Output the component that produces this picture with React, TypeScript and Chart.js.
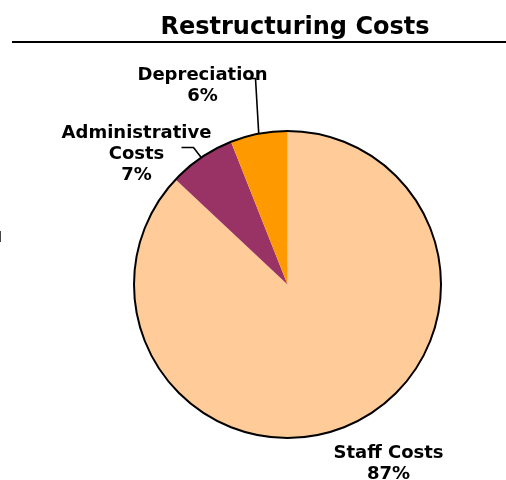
import React, { useEffect, useRef } from "react";
import { Chart, registerables } from "chart.js";

Chart.register(...registerables);

const categories = ["Staff Costs", "Administrative Costs", "Depreciation"];
const values = [87, 7, 6];
const percentLabels = ["87%", "7%", "6%"];
const colors = ["#FFCC99", "#993366", "#FF9900"];
const titleText = "Restructuring Costs";

const FONT = "'DejaVu Sans', sans-serif";

const annotatePlugin = {
  id: "annotate",
  afterDatasetsDraw(chart: any) {
    const ctx = chart.ctx;
    const meta = chart.getDatasetMeta(0);
    const arcs = meta.data;
    if (!arcs.length) return;
    const cx = arcs[0].x;
    const cy = arcs[0].y;
    const r = arcs[0].outerRadius;

    ctx.save();
    // outer border
    ctx.beginPath();
    ctx.arc(cx, cy, r, 0, Math.PI * 2);
    ctx.lineWidth = 2;
    ctx.strokeStyle = "#000";
    ctx.stroke();

    // title
    ctx.fillStyle = "#000";
    ctx.font = `bold 24px ${FONT}`;
    ctx.textAlign = "center";
    ctx.textBaseline = "alphabetic";
    ctx.fillText(titleText, 295, 34);
    ctx.fillRect(12, 41, 494, 2);
    // small clipped mark at left edge
    ctx.fillStyle = "#444";
    ctx.fillRect(0, 231, 1, 11);

    const mid = (i: number) => {
      const a = arcs[i];
      const m = (a.startAngle + a.endAngle) / 2;
      return { x: cx + Math.cos(m) * r, y: cy + Math.sin(m) * r };
    };

    ctx.fillStyle = "#000";
    ctx.font = `bold 18px ${FONT}`;
    ctx.textAlign = "center";
    const lh = 21;
    const drawLines = (lines: string[], x: number, y: number) => {
      lines.forEach((t, k) => ctx.fillText(t, x, y + k * lh));
    };

    // Staff Costs
    drawLines([categories[0], percentLabels[0]], cx + 101, cy + 173);
    // Administrative Costs
    drawLines(["Administrative", "Costs", percentLabels[1]], cx - 151, cy - 147);
    // Depreciation
    drawLines([categories[2], percentLabels[2]], cx - 85, cy - 205);

    // leader lines
    ctx.strokeStyle = "#000";
    ctx.lineWidth = 1.6;
    const pd = mid(2);
    ctx.beginPath();
    ctx.moveTo(cx - 42, cy - 206);
    ctx.lineTo(cx - 32, cy - 206);
    ctx.lineTo(pd.x, pd.y);
    ctx.stroke();
    const pa = mid(1);
    ctx.beginPath();
    ctx.moveTo(cx - 106, cy - 137);
    ctx.lineTo(cx - 94, cy - 137);
    ctx.lineTo(pa.x, pa.y);
    ctx.stroke();
    ctx.restore();
  },
};

export default function App() {
  const ref = useRef<HTMLCanvasElement | null>(null);
  useEffect(() => {
    if (!ref.current) return;
    const chart = new Chart(ref.current, {
      type: "pie",
      data: {
        labels: categories,
        datasets: [
          {
            data: values,
            backgroundColor: colors,
            borderWidth: 0,
          },
        ],
      },
      options: {
        responsive: false,
        animation: false,
        layout: { padding: { left: 134, right: 65, top: 131, bottom: 42 } },
        plugins: {
          legend: { display: false },
          title: { display: false },
          tooltip: { enabled: false },
        },
      },
      plugins: [annotatePlugin],
    });
    return () => chart.destroy();
  }, []);
  return (
    <div style={{ position: "fixed", left: 0, top: 0, width: 506, height: 480, background: "#fff" }}>
      <canvas ref={ref} width={506} height={480} style={{ display: "block" }} />
    </div>
  );
}
